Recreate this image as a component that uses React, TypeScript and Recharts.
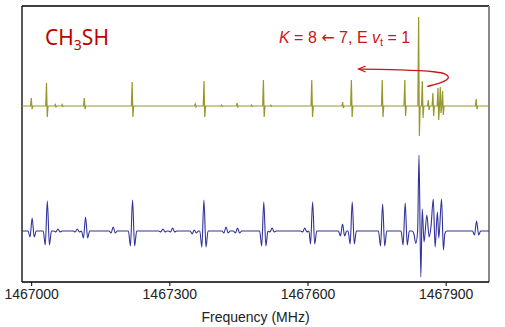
import React from 'react';
import { ComposedChart, Line, Scatter, XAxis, YAxis, ReferenceLine } from 'recharts';

const X_DOMAIN: [number, number] = [1466979, 1467993];
const X_TICKS = [1467000, 1467300, 1467600, 1467900];
const Y_DOMAIN: [number, number] = [0, 276];
const UPPER_BASE = 176;
const LOWER_BASE = 51;

// upper (olive) trace: [frequency MHz, height above baseline, depth below baseline]
const upperLines: [number, number, number][] = [
  [1467000, 8, 3],
  [1467033, 23, 11],
  [1467052, 1.5, 1],
  [1467067, 1.5, 0.5],
  [1467115, 8, 3],
  [1467219, 24, 11],
  [1467356, 2, 1],
  [1467375, 25, 11],
  [1467413, 1, 0.5],
  [1467447, 3, 1],
  [1467478, 1, 0.5],
  [1467504, 26, 11],
  [1467520, 1, 0.5],
  [1467609, 26, 11],
  [1467676, 4, 2],
  [1467695, 26, 11],
  [1467762, 26, 11],
  [1467811, 26, 10],
  [1467841, 89, 30],
  [1467849, 25, 12],
  [1467862, 6, 4],
  [1467872, 13, 10],
  [1467883, 18, 14],
  [1467888, 19, 7],
  [1467893, 15, 9],
  [1467966, 7, 3],
];

// lower (blue) trace isolated lines: [frequency, height, left dip, right dip]
const lowerLines: [number, number, number, number][] = [
  [1467001, 13, 6, 6],
  [1467034, 30, 14, 14],
  [1467057, 2, 1, 1],
  [1467099, 2, 1, 1],
  [1467117, 14, 7, 7],
  [1467177, 4, 2, 2],
  [1467219, 31, 15, 15],
  [1467285, 2, 1, 1],
  [1467306, 3, 1, 1],
  [1467353, 1, 3, 2],
  [1467374, 31, 16, 16],
  [1467422, 4, 2, 2],
  [1467447, 3, 2, 2],
  [1467504, 29, 15, 15],
  [1467522, 3, 1, 1],
  [1467593, 3, 1, 1],
  [1467610, 29, 13, 13],
  [1467675, 7, 5, 5],
  [1467696, 29, 13, 13],
  [1467762, 27, 15, 15],
  [1467811, 28, 14, 14],
  [1467966, 10, 4, 4],
];

// lower (blue) trace dense cluster: [frequency, value relative to baseline]
const lowerCluster: [number, number][] = [
  [1467826, 0],
  [1467830, -3],
  [1467834, -12.5],
  [1467838, 0],
  [1467841, 76],
  [1467845, -46],
  [1467848, 22],
  [1467852, -11],
  [1467858, 16],
  [1467863, -6],
  [1467867, 4],
  [1467872, 32],
  [1467876, -16],
  [1467881, 19],
  [1467884, -7],
  [1467890, 32],
  [1467894, -19],
  [1467897, -3],
  [1467901, 0],
];

// annotation arrow path (frequency, value), head first
const arrowPath: [number, number][] = [
  [1467710, 213],
  [1467757, 212.7],
  [1467800, 212.2],
  [1467843, 211.5],
  [1467880, 210],
  [1467898, 208.5],
  [1467907, 205],
  [1467902, 202],
  [1467887, 199],
  [1467872, 197],
  [1467859, 195.5],
];

type Pt = { f: number; v: number; head?: boolean };

const upperData: Pt[] = (() => {
  const pts: Pt[] = [{ f: X_DOMAIN[0], v: UPPER_BASE }];
  upperLines.forEach(([f, up, down]) => {
    pts.push({ f: f - 2.5, v: UPPER_BASE });
    pts.push({ f: f - 0.8, v: UPPER_BASE + up });
    pts.push({ f: f + 0.8, v: UPPER_BASE - down });
    pts.push({ f: f + 2.5, v: UPPER_BASE });
  });
  pts.push({ f: X_DOMAIN[1], v: UPPER_BASE });
  return pts.sort((a, b) => a.f - b.f);
})();

const lowerData: Pt[] = (() => {
  const pts: Pt[] = [{ f: X_DOMAIN[0], v: LOWER_BASE }];
  lowerLines.forEach(([f, up, dl, dr]) => {
    pts.push({ f: f - 9, v: LOWER_BASE });
    pts.push({ f: f - 4.5, v: LOWER_BASE - dl });
    pts.push({ f, v: LOWER_BASE + up });
    pts.push({ f: f + 4.5, v: LOWER_BASE - dr });
    pts.push({ f: f + 9, v: LOWER_BASE });
  });
  lowerCluster.forEach(([f, d]) => pts.push({ f, v: LOWER_BASE + d }));
  pts.push({ f: X_DOMAIN[1], v: LOWER_BASE });
  return pts.sort((a, b) => a.f - b.f);
})();

const arrowData: Pt[] = arrowPath.map(([f, v], i) => ({ f, v, head: i === 0 }));

const RED = '#cc1515';

const ArrowHead = (props: any) => {
  const { cx, cy, payload } = props;
  if (!payload || !payload.head) return <g />;
  return (
    <path
      d={`M ${cx + 7} ${cy - 3} L ${cx} ${cy} L ${cx + 7} ${cy + 3}`}
      stroke={RED}
      strokeWidth={1.3}
      fill="none"
    />
  );
};

const NARROW = "'Liberation Sans Narrow', 'Arial Narrow', 'Liberation Sans', sans-serif";

export default function App() {
  return (
    <div style={{ position: 'absolute', left: 0, top: 0, width: 505, height: 327, background: '#fff' }}>
      <ComposedChart width={505} height={327} margin={{ top: 6, right: 16, left: 22, bottom: 0 }}>
        <XAxis
          type="number"
          dataKey="f"
          domain={X_DOMAIN}
          ticks={X_TICKS}
          allowDataOverflow
          height={45}
          axisLine={{ stroke: '#000', strokeWidth: 1.3 }}
          tickLine={{ stroke: '#000' }}
          tickSize={4}
          tickMargin={3}
          tick={{ fill: '#222', fontSize: 14, fontFamily: NARROW }}
          label={{
            value: 'Frequency (MHz)',
            position: 'insideBottom',
            offset: 5,
            fill: '#222',
            fontSize: 14,
            fontFamily: NARROW,
          }}
        />
        <YAxis type="number" domain={Y_DOMAIN} hide allowDataOverflow />
        <ReferenceLine x={X_DOMAIN[0]} stroke="#000" strokeWidth={1.3} />
        <ReferenceLine y={Y_DOMAIN[1]} stroke="#000" strokeWidth={1.3} />
        <ReferenceLine x={X_DOMAIN[1]} stroke="#888" strokeWidth={2} />
        <Line
          data={upperData}
          dataKey="v"
          type="linear"
          stroke="#98982a"
          strokeWidth={1.2}
          dot={false}
          activeDot={false}
          isAnimationActive={false}
        />
        <Line
          data={lowerData}
          dataKey="v"
          type="monotone"
          stroke="#31319a"
          strokeWidth={1.1}
          dot={false}
          activeDot={false}
          isAnimationActive={false}
        />
        <Scatter
          data={arrowData}
          dataKey="v"
          line={{ stroke: RED, strokeWidth: 1.3 }}
          lineType="joint"
          lineJointType="basis"
          shape={ArrowHead}
          isAnimationActive={false}
        />
        <text x={45} y={45} fontFamily="'Noto Sans', sans-serif" fontSize={21} fill="#c00000">
          CH
          <tspan dy={5} fontSize={14}>3</tspan>
          <tspan dy={-5}>SH</tspan>
        </text>
        <text x={279} y={43} fontFamily="'Liberation Sans', Arial, sans-serif" fontSize={16} fill={RED}>
          <tspan fontStyle="italic">K</tspan>
          <tspan>{' = 8 '}</tspan>
          <tspan fontFamily="'DejaVu Sans', sans-serif">{'\u2190'}</tspan>
          <tspan>{' 7, E '}</tspan>
          <tspan fontStyle="italic">v</tspan>
          <tspan dy={3} fontSize={11}>t</tspan>
          <tspan dy={-3}>{' = 1'}</tspan>
        </text>
      </ComposedChart>
    </div>
  );
}
